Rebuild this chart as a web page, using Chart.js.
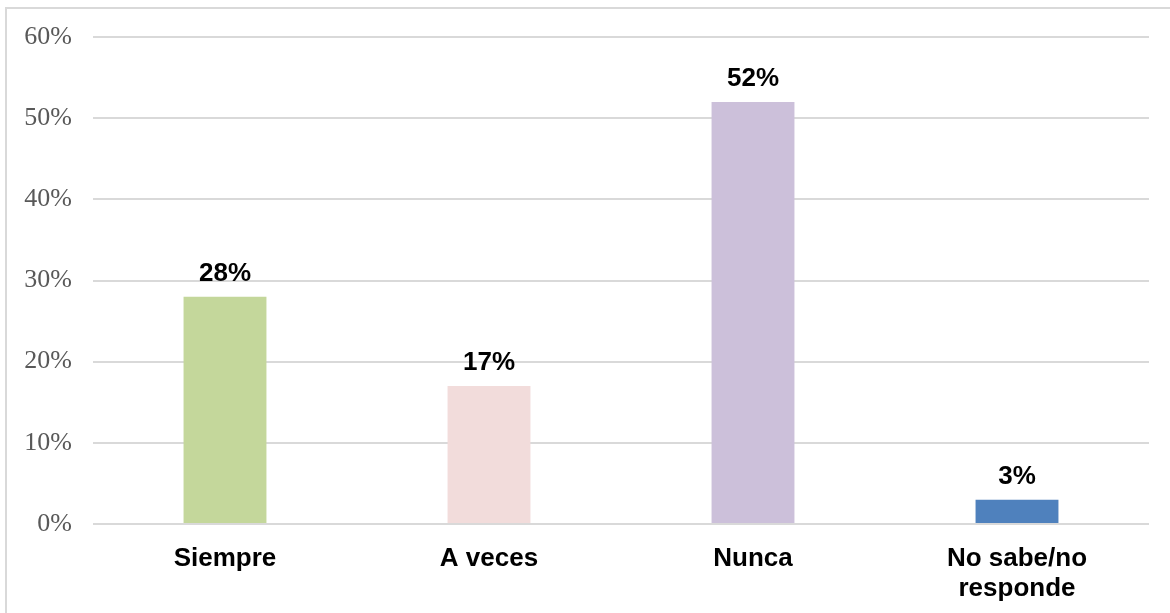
<!DOCTYPE html>
<html><head><meta charset="utf-8">
<script src="https://cdn.jsdelivr.net/npm/chart.js@4/dist/chart.umd.min.js"></script>
<style>
html,body{margin:0;padding:0;background:#fff;}
#wrap{position:relative;width:1170px;height:613px;overflow:hidden;}
#frame{position:absolute;left:5px;top:7px;width:1180px;height:620px;border:2px solid #d9d9d9;box-sizing:border-box;}
canvas{position:absolute;left:0;top:0;}
</style></head>
<body><div id="wrap"><div id="frame"></div><canvas id="c" width="1170" height="613"></canvas></div>
<script>
const categories = ["Siempre", "A veces", "Nunca", ["No sabe/no", "responde"]];
const values = [28, 17, 52, 3];
const barColors = ["#c4d79b", "#f2dcdb", "#ccc0da", "#4f81bd"];
const yTicks = [0, 10, 20, 30, 40, 50, 60];

const valueLabels = {
  id: 'valueLabels',
  afterDatasetsDraw(chart) {
    const ctx = chart.ctx;
    const meta = chart.getDatasetMeta(0);
    ctx.save();
    ctx.font = 'bold 26px "Liberation Sans", Arial, sans-serif';
    ctx.fillStyle = '#000';
    ctx.textAlign = 'center';
    ctx.textBaseline = 'alphabetic';
    meta.data.forEach((bar, i) => {
      ctx.fillText(values[i] + '%', bar.x, bar.y - 16);
    });
    ctx.restore();
  }
};

new Chart(document.getElementById('c'), {
  type: 'bar',
  data: {
    labels: categories,
    datasets: [{
      data: values,
      backgroundColor: barColors,
      borderWidth: 0,
      categoryPercentage: 1,
      barPercentage: 0.314
    }]
  },
  options: {
    responsive: false,
    animation: false,
    devicePixelRatio: 1,
    layout: { padding: { top: 37, right: 21, left: 0, bottom: 0 } },
    plugins: { legend: { display: false }, tooltip: { enabled: false } },
    scales: {
      x: {
        grid: { display: false, drawTicks: false },
        border: { display: false },
        ticks: {
          color: '#000',
          padding: 20,
          font: { family: '"Liberation Sans", Arial, sans-serif', size: 26, weight: 'bold', lineHeight: 1.15 },
          maxRotation: 0
        },
        afterFit(s) { s.height = 89; }
      },
      y: {
        min: 0, max: 60,
        afterBuildTicks(s) { s.ticks = yTicks.map(v => ({ value: v })); },
        grid: { color: '#d9d9d9', lineWidth: 2, drawTicks: false },
        border: { display: false },
        ticks: {
          color: '#595959',
          padding: 21,
          font: { family: '"Liberation Serif", Cambria, serif', size: 26 },
          callback: v => v + '%'
        },
        afterFit(s) { s.width = 93; }
      }
    }
  },
  plugins: [valueLabels]
});
</script></body></html>
